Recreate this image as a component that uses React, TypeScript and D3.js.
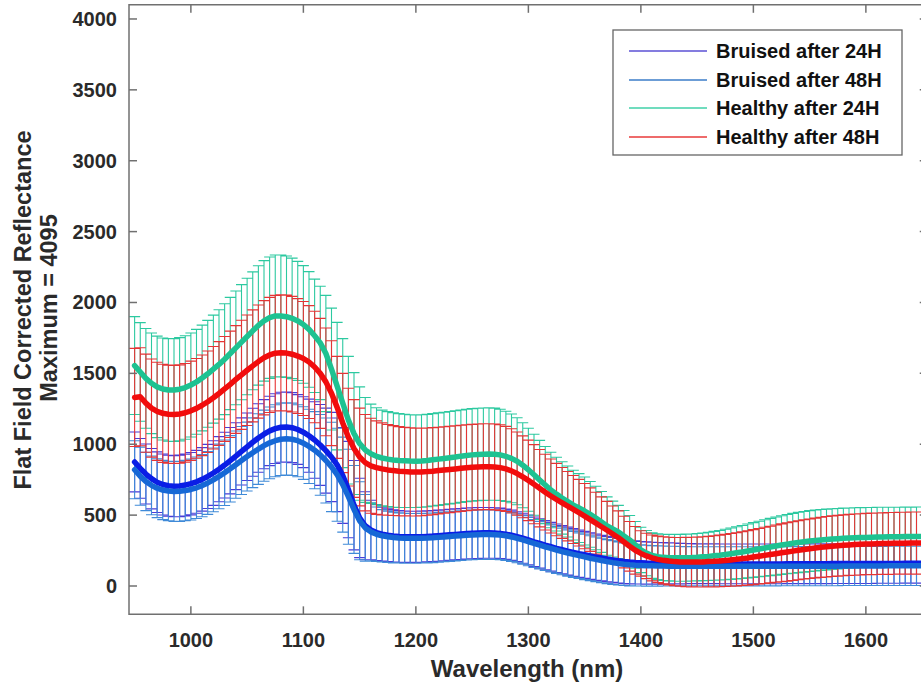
import React from 'react';
import * as d3 from 'd3';

// Wavelength grid (nm), one sample every 5 nm
const wavelengths: number[] = d3.range(950, 1651, 5);

const seriesNames = ['Bruised after 24H', 'Bruised after 48H', 'Healthy after 24H', 'Healthy after 48H'];

const xTicks = [1000, 1100, 1200, 1300, 1400, 1500, 1600];
const yTicks = [0, 500, 1000, 1500, 2000, 2500, 3000, 3500, 4000];

// Bruised after 24H
const bruised24Mean = [
  875, 830, 790, 757, 732, 716, 707, 704, 706, 712,
  722, 735, 752, 773, 797, 824, 853, 884, 916, 949,
  982, 1014, 1044, 1071, 1094, 1110, 1120, 1122, 1117, 1104,
  1085, 1060, 1030, 995, 955, 910, 855, 780, 680, 570,
  480, 425, 395, 377, 366, 358, 353, 350, 348, 347,
  347, 348, 350, 352, 355, 358, 361, 364, 367, 370,
  372, 374, 375, 375, 374, 371, 366, 358, 348, 337,
  325, 312, 300, 288, 277, 266, 256, 246, 237, 228,
  220, 212, 204, 197, 190, 184, 178, 173, 169, 166,
  164, 162, 161, 160, 160, 159, 159, 158, 158, 158,
  157, 157, 157, 157, 156, 156, 156, 156, 156, 156,
  156, 156, 156, 156, 156, 156, 157, 157, 157, 157,
  157, 157, 157, 157, 158, 158, 158, 158, 158, 158,
  158, 158, 159, 159, 159, 159, 159, 160, 160, 160, 160,
];
const bruised24Std = [
  211, 211, 212, 213, 214, 215, 215, 216, 217, 218,
  220, 222, 224, 226, 228, 230, 232, 234, 236, 237,
  238, 240, 242, 244, 245, 246, 247, 247, 247, 246,
  250, 258, 270, 285, 300, 315, 330, 338, 340, 315,
  280, 240, 210, 198, 190, 186, 184, 182, 181, 180,
  180, 180, 180, 180, 180, 180, 180, 180, 180, 180,
  180, 180, 179, 179, 178, 178, 177, 177, 176, 176,
  175, 175, 174, 173, 172, 171, 170, 169, 168, 167,
  165, 164, 163, 161, 160, 158, 157, 155, 154, 152,
  150, 149, 148, 147, 146, 145, 144, 143, 142, 141,
  140, 140, 140, 140, 140, 140, 140, 140, 140, 140,
  140, 140, 140, 140, 140, 140, 140, 140, 140, 140,
  140, 140, 140, 140, 140, 140, 140, 140, 140, 140,
  140, 140, 140, 140, 140, 140, 140, 140, 140, 140, 140,
];

// Bruised after 48H
const bruised48Mean = [
  820, 775, 738, 710, 690, 677, 670, 667, 668, 673,
  681, 693, 708, 727, 749, 773, 799, 827, 856, 885,
  913, 940, 966, 990, 1010, 1025, 1035, 1038, 1035, 1025,
  1008, 985, 958, 925, 885, 840, 785, 715, 630, 540,
  460, 410, 382, 365, 354, 347, 342, 339, 337, 336,
  336, 337, 338, 340, 343, 346, 349, 352, 355, 358,
  360, 362, 363, 363, 362, 359, 354, 346, 336, 325,
  313, 300, 288, 276, 265, 254, 243, 233, 223, 214,
  205, 196, 188, 180, 172, 165, 159, 154, 150, 147,
  145, 143, 142, 141, 141, 140, 140, 140, 139, 139,
  139, 139, 139, 139, 139, 139, 139, 139, 139, 139,
  139, 139, 139, 139, 139, 140, 140, 140, 140, 140,
  140, 140, 140, 140, 140, 140, 141, 141, 141, 141,
  141, 141, 141, 141, 142, 142, 142, 142, 142, 142, 142,
];
const bruised48Std = [
  205, 205, 206, 207, 208, 209, 210, 211, 212, 213,
  215, 217, 219, 222, 225, 228, 231, 234, 237, 240,
  243, 246, 249, 251, 253, 254, 255, 255, 255, 254,
  256, 262, 272, 285, 300, 315, 328, 335, 335, 310,
  275, 235, 205, 192, 185, 181, 179, 177, 176, 175,
  175, 175, 175, 175, 175, 175, 175, 175, 175, 175,
  175, 175, 175, 174, 174, 173, 173, 172, 172, 171,
  170, 169, 168, 167, 166, 165, 164, 163, 162, 161,
  160, 159, 158, 157, 155, 154, 152, 150, 149, 147,
  145, 144, 143, 142, 141, 140, 140, 139, 139, 138,
  138, 138, 138, 138, 138, 138, 138, 138, 138, 138,
  138, 138, 138, 138, 138, 138, 138, 138, 138, 138,
  138, 138, 138, 138, 138, 138, 138, 138, 138, 138,
  138, 138, 138, 138, 138, 138, 138, 138, 138, 138, 138,
];

// Healthy after 24H
const healthy24Mean = [
  1555, 1510, 1465, 1430, 1405, 1390, 1383, 1382, 1388, 1400,
  1418, 1440, 1467, 1497, 1530, 1563, 1600, 1640, 1680, 1720,
  1760, 1800, 1838, 1870, 1893, 1905, 1905, 1900, 1888, 1870,
  1845, 1810, 1765, 1715, 1640, 1530, 1410, 1290, 1170, 1075,
  1005, 960, 933, 915, 903, 895, 889, 885, 883, 881,
  880, 882, 885, 890, 895, 900, 905, 910, 916, 921,
  925, 928, 930, 931, 930, 925, 915, 900, 880, 852,
  820, 785, 748, 712, 677, 648, 621, 596, 571, 550,
  529, 505, 480, 452, 423, 402, 381, 353, 325, 290,
  254, 232, 215, 207, 202, 200, 199, 199, 200, 201,
  203, 206, 209, 213, 217, 222, 228, 234, 240, 247,
  254, 261, 268, 275, 282, 289, 295, 301, 307, 312,
  317, 321, 325, 328, 331, 334, 336, 338, 340, 342,
  343, 344, 345, 346, 347, 348, 348, 349, 349, 350, 350,
];
const healthy24Std = [
  345, 348, 352, 355, 358, 360, 362, 363, 364, 365,
  367, 370, 373, 377, 381, 386, 391, 396, 401, 406,
  411, 416, 421, 425, 428, 430, 430, 428, 425, 420,
  415, 408, 400, 400, 410, 430, 450, 455, 450, 430,
  400, 370, 350, 342, 338, 335, 333, 331, 329, 327,
  326, 326, 326, 326, 326, 326, 326, 326, 326, 326,
  326, 326, 326, 326, 325, 322, 318, 313, 307, 300,
  293, 286, 279, 272, 266, 260, 255, 250, 246, 243,
  240, 232, 224, 215, 206, 197, 188, 180, 172, 165,
  160, 160, 161, 162, 163, 164, 165, 165, 166, 166,
  167, 168, 170, 172, 175, 178, 181, 184, 187, 190,
  193, 196, 199, 202, 205, 207, 209, 211, 213, 214,
  215, 215, 215, 214, 214, 213, 213, 212, 212, 211,
  211, 210, 210, 209, 209, 208, 208, 208, 207, 207, 207,
];

// Healthy after 48H
const healthy48Mean = [
  1330, 1335, 1290, 1255, 1232, 1218, 1212, 1210, 1213, 1222,
  1236, 1253, 1275, 1300, 1328, 1358, 1390, 1423, 1457, 1490,
  1522, 1553, 1583, 1610, 1630, 1642, 1645, 1643, 1635, 1622,
  1605, 1580, 1545, 1500, 1440, 1360, 1260, 1150, 1050, 970,
  910, 870, 848, 835, 826, 819, 814, 810, 807, 805,
  804, 805, 807, 810, 814, 818, 822, 826, 830, 834,
  837, 840, 842, 842, 840, 835, 826, 812, 793, 770,
  745, 718, 690, 662, 635, 610, 586, 563, 540, 517,
  493, 468, 443, 418, 393, 367, 340, 310, 280, 252,
  230, 212, 198, 188, 181, 176, 172, 170, 169, 169,
  169, 170, 172, 174, 177, 180, 184, 188, 193, 198,
  204, 210, 216, 222, 228, 234, 240, 246, 252, 258,
  263, 268, 273, 277, 281, 284, 287, 290, 292, 294,
  296, 297, 298, 299, 300, 301, 302, 302, 303, 303, 303,
];
const healthy48Std = [
  346, 346, 346, 346, 346, 346, 346, 346, 347, 348,
  350, 352, 355, 358, 362, 366, 370, 375, 380, 385,
  390, 395, 399, 403, 406, 408, 409, 409, 408, 405,
  402, 398, 393, 388, 380, 370, 360, 350, 345, 345,
  345, 340, 335, 330, 325, 320, 317, 314, 312, 311,
  310, 309, 308, 307, 306, 305, 305, 304, 304, 303,
  303, 303, 303, 303, 303, 302, 300, 297, 293, 289,
  284, 279, 273, 267, 261, 255, 250, 245, 240, 235,
  230, 224, 218, 211, 204, 197, 190, 182, 175, 168,
  160, 160, 162, 164, 166, 168, 170, 172, 174, 175,
  176, 177, 178, 180, 182, 184, 186, 188, 190, 192,
  194, 196, 198, 200, 202, 204, 206, 207, 208, 209,
  210, 211, 212, 213, 214, 214, 215, 215, 216, 216,
  216, 217, 217, 217, 218, 218, 218, 218, 219, 219, 219,
];

const meanColors = ['#0a1ee6', '#1668d6', '#1ec291', '#f20c0c'];
const barColors = ['#4a3cd8', '#3f8ad8', '#2cc9a0', '#e63434'];
const legendColors = ['#5b50d4', '#3b7cc8', '#40d0a8', '#e83a3a'];

const means = [bruised24Mean, bruised48Mean, healthy24Mean, healthy48Mean];
const stds = [bruised24Std, bruised48Std, healthy24Std, healthy48Std];

const FONT = "'Liberation Sans', Arial, Helvetica, sans-serif";

export default function App() {
  const W = 921;
  const H = 689;
  const left = 129;
  const top = 4.8;
  const bottom = 614.35;
  const x = d3.scaleLinear().domain([945, 1655]).range([129, 927.75]);
  const y = d3.scaleLinear().domain([-200, 4100]).range([bottom, top]);
  const right = x(1655);
  const cap = 5.5;
  const tickLen = 8;

  const barPath = (s: number) => {
    const m = means[s];
    const sd = stds[s];
    let p = '';
    wavelengths.forEach((w, i) => {
      const xx = x(w);
      const y1 = y(m[i] + sd[i]);
      const y0 = y(m[i] - sd[i]);
      p += `M${xx},${y0}V${y1}M${xx - cap},${y1}H${xx + cap}M${xx - cap},${y0}H${xx + cap}`;
    });
    return p;
  };

  const line = (s: number) =>
    d3
      .line<number>()
      .x((_, i) => x(wavelengths[i]))
      .y((v) => y(v))(means[s]) || '';

  const axisColor = '#707070';
  const legendX = 613;
  const legendY = 30;
  const rowYs = [51, 80, 108, 137];

  return (
    <svg
      width={W}
      height={H}
      style={{ position: 'absolute', left: 0, top: 0, background: '#fff' }}
      fontFamily={FONT}
    >
      <rect x={0} y={0} width={W} height={H} fill="#fff" />
      {/* error bars */}
      {[0, 1, 2, 3].map((s) => (
        <path key={'b' + s} d={barPath(s)} stroke={barColors[s]} strokeWidth={1.1} fill="none" />
      ))}
      {/* mean lines */}
      {[0, 1, 2, 3].map((s) => (
        <path
          key={'l' + s}
          d={line(s)}
          stroke={meanColors[s]}
          strokeWidth={5.5}
          fill="none"
          strokeLinejoin="round"
          strokeLinecap="round"
        />
      ))}
      {/* axes box */}
      <g stroke={axisColor} strokeWidth={1.5} fill="none">
        <path d={`M${left},${top}H${right}V${bottom}H${left}Z`} />
        {yTicks.map((t) => (
          <g key={'yt' + t}>
            <line x1={left} x2={left + tickLen} y1={y(t)} y2={y(t)} />
            <line x1={right} x2={right - tickLen} y1={y(t)} y2={y(t)} />
          </g>
        ))}
        {xTicks.map((t) => (
          <g key={'xt' + t}>
            <line x1={x(t)} x2={x(t)} y1={bottom} y2={bottom - tickLen} />
            <line x1={x(t)} x2={x(t)} y1={top} y2={top + tickLen} />
          </g>
        ))}
      </g>
      {/* tick labels */}
      <g fontSize={20} fontWeight="bold" fill="#2a2a2a">
        {yTicks.map((t) => (
          <text key={'yl' + t} x={117} y={y(t) + 7} textAnchor="end">
            {t}
          </text>
        ))}
        {xTicks.map((t) => (
          <text key={'xl' + t} x={x(t)} y={647} textAnchor="middle">
            {t}
          </text>
        ))}
      </g>
      {/* axis titles */}
      <text x={527} y={677} textAnchor="middle" fontSize={24} fontWeight="bold" fill="#2a2a2a">
        Wavelength (nm)
      </text>
      <g fontSize={23.5} fontWeight="bold" fill="#2a2a2a" textAnchor="middle">
        <text transform={`translate(31,310) rotate(-90)`}>Flat Field Corrected Reflectance</text>
        <text transform={`translate(57,308) rotate(-90)`}>Maximum = 4095</text>
      </g>
      {/* legend */}
      <rect x={legendX} y={legendY} width={289} height={125} fill="#fff" stroke="#666" strokeWidth={1.3} />
      {seriesNames.map((name, i) => (
        <g key={name}>
          <line x1={629} x2={707} y1={rowYs[i]} y2={rowYs[i]} stroke={legendColors[i]} strokeWidth={1.6} />
          <text x={716} y={rowYs[i] + 7} fontSize={20} fontWeight="bold" fill="#111">
            {name}
          </text>
        </g>
      ))}
    </svg>
  );
}
